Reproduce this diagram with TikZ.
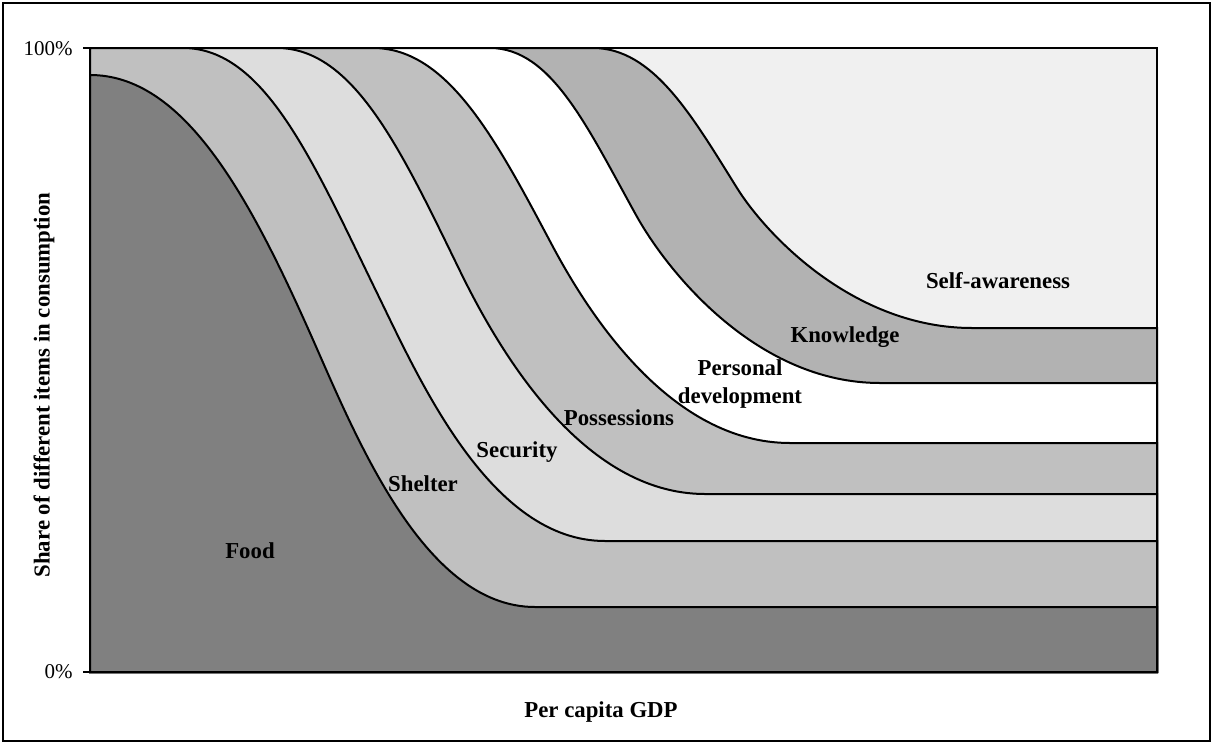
\documentclass[tikz,border=0pt]{standalone}
\usepackage{fontspec}
\setmainfont{Liberation Serif}
\definecolor{foodgray}{gray}{0.5}
\definecolor{midgray}{gray}{0.753}
\definecolor{secgray}{gray}{0.867}
\definecolor{knowgray}{gray}{0.70}
\definecolor{selfgray}{gray}{0.94}
\begin{document}
\begin{tikzpicture}[x=0.5pt,y=-0.5pt,
    band/.style={font=\fontsize{11.4}{14}\selectfont\bfseries, align=center},
    tick/.style={font=\fontsize{10.5}{12}\selectfont, anchor=east, inner sep=1pt},
    curve/.style={line width=1pt, draw=black},
    frame/.style={line width=1.2pt}]
\useasboundingbox (0,0) rectangle (1213,744);
\draw[frame] (3,3) rectangle (1210,741);
\fill[selfgray] (90,48) rectangle (1157,672);
% xs/ys = top, xm/ym = steepest point, xe/ye = start of plateau
\foreach \xs/\ys/\xm/\ym/\ang/\xe/\ye/\col in {
        593/48/737/188/58/972/328/knowgray,
        490/48/636/215/61/880/383/white,
        373/48/552/245/62/790/443/midgray,
        277/48/460/271/64/705/494/secgray,
        183/48/378/295/64/605/541/midgray,
        90/75/310/333/66/535/607/foodgray} {
       \pgfmathsetmacro\ca{0.42*(\xm-\xs)}
       \pgfmathsetmacro\cb{0.6*(\ym-\ys)}
       \pgfmathsetmacro\cc{0.4*(\ye-\ym)}
       \pgfmathsetmacro\cd{0.5*(\xe-\xm)}
       \pgfmathsetmacro\back{\ang+180}
       \filldraw[curve, fill=\col] (90,672) -- (90,\ys) -- (\xs,\ys)
          .. controls +(\ca,0) and +(\back:\cb) .. (\xm,\ym)
          .. controls +(\ang:\cc) and +(-\cd,0) .. (\xe,\ye)
          -- (1157,\ye) -- (1157,672) -- cycle;
  }
\draw[frame] (90,48) rectangle (1157,672);
\draw[frame] (83,48) -- (90,48);
\draw[frame] (83,672) -- (90,672);
\foreach \t/\x/\y [count=\n] in {
        Food/250/551,
        Shelter/423/484,
        Security/517/452,
        Possessions/619/418,
        {Personal\\development}/740/384,
        Knowledge/845/337,
        Self-awareness/998/281} {
       \node[band] (band\n) at (\x,\y) {\t};
  }
\node[band] (gdp) at (601,712) {Per capita GDP};
\node[band, rotate=90] (share) at (44,385) {Share of different items in consumption};
\node[tick] (full) at (75,49) {100\%};
\node[tick] (zero) at (75,672) {0\%};
\end{tikzpicture}
\end{document}
